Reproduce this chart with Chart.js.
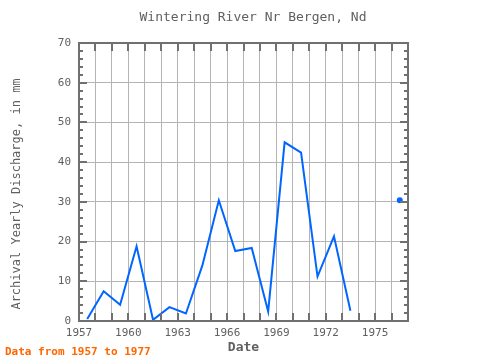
<!DOCTYPE html>
<html>
<head>
<meta charset="utf-8">
<script src="https://cdn.jsdelivr.net/npm/chart.js@4/dist/chart.umd.min.js"></script>
<style>
  html, body { margin: 0; padding: 0; background: #fff; }
  #wrap { width: 480px; height: 360px; }
</style>
</head>
<body>
<div id="wrap"><canvas id="chart" width="480" height="360"></canvas></div>
<script>
// yearly values (null = no data)
const years = [1957, 1958, 1959, 1960, 1961, 1962, 1963, 1964, 1965, 1966,
               1967, 1968, 1969, 1970, 1971, 1972, 1973, 1974, 1975, 1976];
const discharge = [0.5, 7.5, 4.1, 18.8, 0.3, 3.5, 1.9, 14.0, 30.4, 17.6,
                   18.4, 2.4, 45.0, 42.4, 11.2, 21.3, 2.6, null, null, 30.4];
const xTickLabels = [1957, 1960, 1963, 1966, 1969, 1972, 1975];
const yTickLabels = [0, 10, 20, 30, 40, 50, 60, 70];

const mono = "'DejaVu Sans Mono', monospace";
const frameColor = "#707070";
const textColor = "#606060";

const points = years.map((y, i) => ({ x: y + 0.5, y: discharge[i] }));
// show a dot only where a value has no neighbours to join to
const radii = discharge.map((v, i) => {
  if (v === null) return 0;
  const prev = i > 0 ? discharge[i - 1] : null;
  const next = i < discharge.length - 1 ? discharge[i + 1] : null;
  return prev === null && next === null ? 2 : 0;
});

// frame, inner ticks, titles and footer
const decorations = {
  id: "decorations",
  afterDraw(chart) {
    const ctx = chart.ctx;
    const a = chart.chartArea;
    const xs = chart.scales.x;
    const ys = chart.scales.y;
    ctx.save();
    ctx.strokeStyle = frameColor;
    ctx.lineWidth = 2;
    for (let yr = 1957; yr <= 1977; yr++) {
      const px = Math.round(xs.getPixelForValue(yr));
      ctx.beginPath();
      ctx.moveTo(px, a.bottom); ctx.lineTo(px, a.bottom - 8);
      ctx.moveTo(px, a.top); ctx.lineTo(px, a.top + 8);
      ctx.stroke();
    }
    for (let v = 0; v <= 70; v += 2) {
      const py = Math.round(ys.getPixelForValue(v));
      const len = v % 10 === 0 ? 8 : 4;
      ctx.beginPath();
      ctx.moveTo(a.left, py); ctx.lineTo(a.left + len, py);
      ctx.moveTo(a.right, py); ctx.lineTo(a.right - len, py);
      ctx.stroke();
    }
    ctx.strokeRect(a.left, a.top, a.right - a.left, a.bottom - a.top);

    ctx.fillStyle = textColor;
    ctx.font = "13px " + mono;
    ctx.textAlign = "center";
    ctx.textBaseline = "middle";
    ctx.fillText("Wintering River Nr Bergen, Nd", 253, 18);

    ctx.save();
    ctx.translate(17, 194);
    ctx.rotate(-Math.PI / 2);
    ctx.font = "12px " + mono;
    ctx.fillText("Archival Yearly Discharge, in mm", 0, 0);
    ctx.restore();

    ctx.fillStyle = "#ff6600";
    ctx.font = "bold 11px " + mono;
    ctx.textAlign = "left";
    ctx.fillText("Data from 1957 to 1977", 5, 352);
    ctx.restore();
  }
};

const config = {
  type: "line",
  data: {
    datasets: [{
      data: points,
      borderColor: "#0066ff",
      backgroundColor: "#0066ff",
      borderWidth: 2,
      pointRadius: radii,
      pointHoverRadius: radii,
      spanGaps: false,
      fill: false,
      tension: 0
    }]
  },
  options: {
    responsive: false,
    animation: false,
    layout: { padding: { top: 43, right: 72, left: 0, bottom: 0 } },
    plugins: { legend: { display: false }, tooltip: { enabled: false } },
    scales: {
      x: {
        type: "linear",
        min: 1957,
        max: 1977,
        afterFit(scale) { scale.height = 39; },
        ticks: {
          stepSize: 1,
          autoSkip: false,
          maxRotation: 0,
          padding: 6,
          color: textColor,
          font: { family: mono, size: 11 },
          callback: v => xTickLabels.includes(v) ? String(v) : ""
        },
        grid: { color: "#b4b4b4", lineWidth: 1, drawTicks: false },
        border: { display: false },
        title: {
          display: true,
          text: "Date",
          color: textColor,
          font: { family: mono, size: 13, weight: "bold" },
          padding: { top: 2, bottom: 5 }
        }
      },
      y: {
        min: 0,
        max: 70,
        afterFit(scale) { scale.width = 79; },
        ticks: {
          stepSize: 2,
          autoSkip: false,
          padding: 8,
          color: textColor,
          font: { family: mono, size: 11 },
          callback: v => yTickLabels.includes(v) ? String(v) : ""
        },
        grid: {
          color: ctx => ctx.tick && ctx.tick.value % 10 === 0 ? "#b4b4b4" : "rgba(0,0,0,0)",
          lineWidth: 1,
          drawTicks: false
        },
        border: { display: false }
      }
    }
  },
  plugins: [decorations]
};

const chart = new Chart(document.getElementById("chart").getContext("2d"), config);
</script>
</body>
</html>
